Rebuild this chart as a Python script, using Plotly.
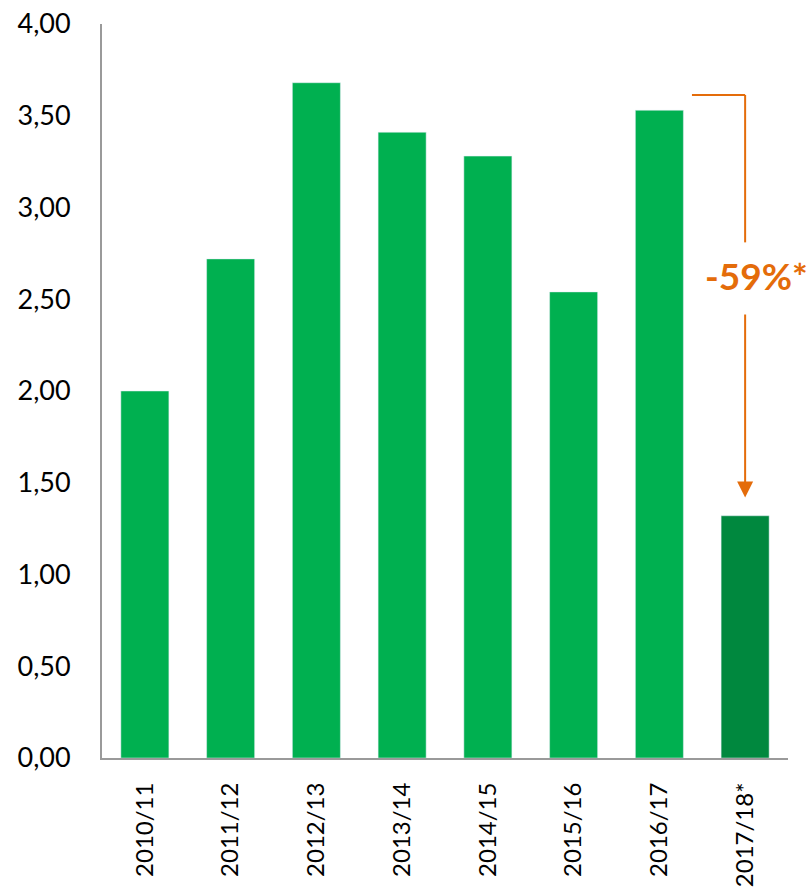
import plotly.graph_objects as go

categories = ["2010/11", "2011/12", "2012/13", "2013/14", "2014/15", "2015/16", "2016/17", "2017/18*"]
values = [2.00, 2.72, 3.68, 3.41, 3.28, 2.54, 3.53, 1.32]
bar_colors = ["#00B050"] * 7 + ["#00883E"]
y_ticks = [0, 0.5, 1, 1.5, 2, 2.5, 3, 3.5, 4]
change_label = "-59%*"

ORANGE = "#E46C0A"
FONT = "Lato"

fig = go.Figure(go.Bar(x=categories, y=values, marker_color=bar_colors, width=0.56))

# bracket from 2016/17 bar to the label
fig.add_shape(type="line", x0=6.38, x1=7, y0=3.613, y1=3.613, line=dict(color=ORANGE, width=2))
fig.add_shape(type="line", x0=7, x1=7, y0=3.613, y1=2.81, line=dict(color=ORANGE, width=2))
fig.add_annotation(x=7, y=2.63, text="<b>" + change_label + "</b>", showarrow=False,
                   xshift=11, font=dict(family=FONT, size=37, color=ORANGE))
fig.add_annotation(x=7, y=1.42, ax=7, ay=2.425, axref="x", ayref="y", xref="x", yref="y",
                   text="", showarrow=True, arrowhead=2, arrowsize=1.6, arrowwidth=2,
                   arrowcolor=ORANGE)

fig.update_layout(
    width=811, height=891,
    margin=dict(l=102, r=23, t=24, b=133, autoexpand=False),
    plot_bgcolor="white", paper_bgcolor="white",
    separators=",.",
    showlegend=False,
    bargap=0.44,
    font=dict(family=FONT, color="black"),
)
fig.update_yaxes(range=[0, 4], tickvals=y_ticks, tickformat=".2f", showgrid=False,
                 showline=True, linecolor="#9A9A9A", linewidth=2, ticks="",
                 tickfont=dict(size=27), ticklabelstandoff=24, zeroline=False,
                 automargin=False, ticklabeloverflow="allow")
fig.update_xaxes(range=[-0.5, 7.5], showline=True, linecolor="#9A9A9A", linewidth=2, ticks="",
                 tickangle=-90, tickfont=dict(size=24), ticklabelstandoff=13,
                 automargin=False)

fig.write_html("out.html", config={"displayModeBar": False},
               post_script="document.body.style.margin='0px';document.body.style.overflow='hidden';")
